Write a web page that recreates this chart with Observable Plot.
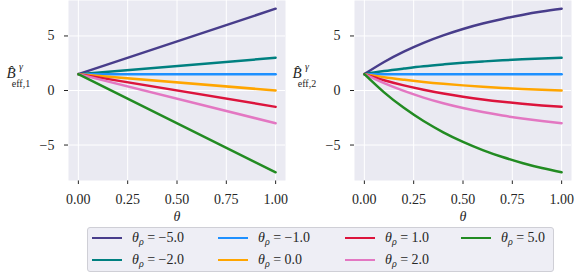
<!DOCTYPE html>
<html><head><meta charset="utf-8">
<script src="https://cdn.jsdelivr.net/npm/d3@7"></script>
<script src="https://cdn.jsdelivr.net/npm/@observablehq/plot@0.6"></script>
<style>
body{margin:0;background:#fff;}
#wrap{position:relative;width:584px;height:273px;font-family:"Liberation Serif","DejaVu Serif",serif;color:#262626;overflow:hidden;}
#p1{position:absolute;left:0;top:0;}
#p2{position:absolute;left:290px;top:0;}
#legend{position:absolute;left:87px;top:227px;width:467px;height:45px;box-sizing:border-box;border:1px solid #cfcfd6;border-radius:3px;background:#eeeef5;}
.item{position:absolute;display:flex;align-items:center;font-size:14px;height:20px;white-space:nowrap;}
.sw{width:30px;height:0;border-top:2.5px solid;margin-right:10px;}
.item sub{font-size:10px;vertical-align:-3px;}
</style></head>
<body>
<div id="wrap"><div id="p1"></div><div id="p2"></div><div id="legend"></div></div>
<script>
const FONT = "'Liberation Serif', 'DejaVu Serif', serif";
// legend values (theta_rho) and colors
const thetaRho = [-5, -2, -1, 0, 1, 2, 5];
const colors = ["#483d8b", "#008080", "#1e90ff", "#ffa500", "#dc143c", "#e377c2", "#228b22"];
// left panel: linear, theta from 0 to 1
const thetaLinear = [0, 1];
const linearValues = [
  [1.5, 7.5], [1.5, 3.0], [1.5, 1.5], [1.5, 0.0], [1.5, -1.5], [1.5, -3.0], [1.5, -7.5]
];
// right panel: curved
const thetaCurve = [0, 0.1, 0.2, 0.3, 0.4, 0.5, 0.6, 0.7, 0.8, 0.9, 1.0];
const curvedValues = [
  [1.5, 2.61, 3.56, 4.37, 5.05, 5.64, 6.14, 6.56, 6.93, 7.24, 7.5],
  [1.5, 1.78, 2.01, 2.22, 2.39, 2.54, 2.66, 2.77, 2.86, 2.93, 3.0],
  [1.5, 1.5, 1.5, 1.5, 1.5, 1.5, 1.5, 1.5, 1.5, 1.5, 1.5],
  [1.5, 1.22, 0.99, 0.78, 0.61, 0.47, 0.34, 0.23, 0.14, 0.07, 0.0],
  [1.5, 0.94, 0.47, 0.07, -0.28, -0.57, -0.82, -1.03, -1.21, -1.37, -1.5],
  [1.5, 0.67, -0.04, -0.65, -1.17, -1.61, -1.98, -2.30, -2.57, -2.80, -3.0],
  [1.5, -0.17, -1.59, -2.80, -3.83, -4.71, -5.46, -6.10, -6.64, -7.11, -7.5]
];
const xTicks = [0, 0.25, 0.5, 0.75, 1];
const yTicks = [-5, 0, 5];

function toRows(thetas, values) {
  const rows = [];
  values.forEach((vals, i) => vals.forEach((v, j) => rows.push({theta: thetas[j], value: v, rho: thetaRho[i]})));
  return rows;
}

function panel(rows, ml, mr, w, sub) {
  const svg = Plot.plot({
    width: w, height: 225,
    marginLeft: ml, marginRight: mr, marginTop: 0, marginBottom: 45,
    style: {background: "transparent", fontFamily: FONT, fontSize: "14px", color: "#262626"},
    x: {domain: [-0.05, 1.05], ticks: xTicks, tickFormat: d3.format(".2f"), label: "θ", labelAnchor: "center", labelArrow: "none", labelOffset: 40, tickSize: 4, tickPadding: 10},
    y: {domain: [-8.25, 8.25], ticks: yTicks, tickFormat: d => d < 0 ? "\u2212" + Math.abs(d) : String(d), label: null, tickSize: 4, tickPadding: 10},
    color: {domain: thetaRho, range: colors},
    marks: [
      Plot.frame({fill: "#eaeaf2", stroke: "none"}),
      Plot.gridX(xTicks, {stroke: "white", strokeOpacity: 1, strokeWidth: 1}),
      Plot.gridY(yTicks, {stroke: "white", strokeOpacity: 1, strokeWidth: 1}),
      Plot.line(rows, {x: "theta", y: "value", z: "rho", stroke: "rho", strokeWidth: 2.5, curve: "natural"})
    ]
  });
  const s = d3.select(svg);
  s.selectAll('[aria-label="x-axis label"] text').style("font-style", "italic");
  const lx = ml === 68 ? 11 : 7;
  const txt = (x, y, size, italic, str) => s.append("text").attr("x", x).attr("y", y).attr("fill", "#262626")
    .style("font-family", FONT).style("font-size", size + "px").style("font-style", italic ? "italic" : "normal").text(str);
  txt(lx, 78, 15, true, "B\u0302");
  txt(lx + 10, 70, 10, true, "γ");
  txt(lx + 10, 87, 10, false, "eff," + sub);
  return svg;
}

document.getElementById("p1").appendChild(panel(toRows(thetaLinear, linearValues), 68, 5, 290, 1));
document.getElementById("p2").appendChild(panel(toRows(thetaCurve, curvedValues), 64, 13, 294, 2));

// legend: column-major, 2 rows x 4 columns
const colLeft = [4, 130, 257, 373];
const rowTop = [0, 22];
const leg = document.getElementById("legend");
thetaRho.forEach((r, i) => {
  const c = Math.floor(i / 2), rr = i % 2;
  const d = document.createElement("div");
  d.className = "item";
  d.style.left = colLeft[c] + "px";
  d.style.top = rowTop[rr] + "px";
  const val = (r < 0 ? "\u2212" : "") + Math.abs(r).toFixed(1);
  d.innerHTML = `<span class="sw" style="border-color:${colors[i]}"></span><span><i>θ</i><sub><i>ρ</i></sub> = ${val}</span>`;
  leg.appendChild(d);
});
</script>
</body></html>
